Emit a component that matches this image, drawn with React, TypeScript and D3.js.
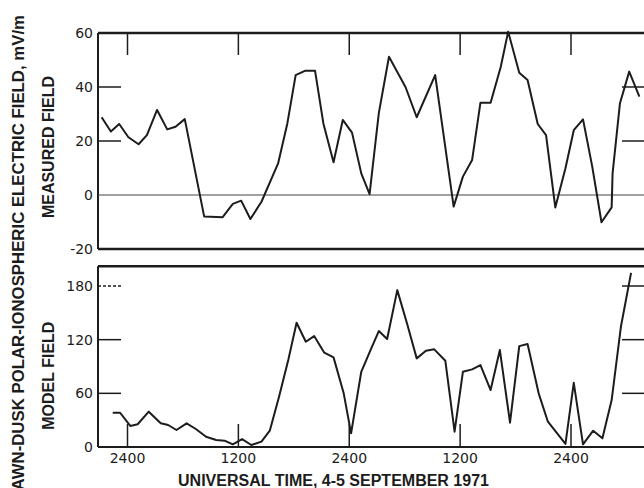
import React from "react";
import * as d3 from "d3";

// hours after 2400 UT on 4 Sept
const measuredHours = [-2.8, -1.8, -0.9, 0.1, 1.2, 2.1, 3.2, 4.3, 5.2, 6.2, 8.3, 10.3, 11.4, 12.3, 13.3, 14.5, 16.3, 17.3, 18.2, 19.2, 20.3, 21.2, 22.3, 23.3, 24.3, 25.3, 26.2, 27.2, 28.3, 30.1, 31.3, 33.3, 35.3, 36.3, 37.3, 38.2, 39.3, 40.4, 41.2, 42.4, 43.3, 44.4, 45.3, 46.3, 47.4, 48.3, 49.3, 50.3, 51.3, 52.4, 52.5, 53.3, 54.3, 55.4];
const measuredValues = [28.8, 23.5, 26.3, 21.4, 18.8, 22.2, 31.5, 24.3, 25.3, 28.1, -8, -8.2, -3.3, -2.1, -8.9, -2.5, 11.7, 26.5, 44.4, 46, 46, 26.5, 12.1, 27.8, 23.1, 8, 0.3, 30.3, 51.2, 39.9, 28.8, 44.4, -4.3, 6.8, 13, 34.2, 34.2, 47.5, 60.5, 45.3, 42.6, 26.3, 22.2, -4.6, 9.9, 24, 28, 10.5, -10.1, -4.6, 8, 34, 45.7, 36.4];

const modelHours = [-1.6, -0.8, 0.3, 1.1, 2.3, 3.6, 4.4, 5.3, 6.4, 7.4, 8.5, 9.6, 10.5, 11.4, 12.4, 13.4, 14.5, 15.4, 16.4, 17.4, 18.3, 19.3, 20.2, 21.3, 22.3, 23.4, 24.2, 25.3, 26.3, 27.2, 28.1, 29.2, 30.3, 31.3, 32.3, 33.2, 34.4, 35.4, 36.3, 37.3, 38.2, 39.3, 40.3, 41.4, 42.4, 43.3, 44.5, 45.5, 47.4, 48.3, 49.3, 50.4, 51.4, 52.4, 53.4, 54.5];
const modelValues = [38.3, 38.3, 23.5, 25.4, 39.5, 26.5, 24.6, 19, 26.5, 20.1, 11.5, 7.8, 7.1, 3, 8.9, 2.2, 6, 18.2, 56.2, 97.2, 138.9, 117.7, 124, 105.4, 100.2, 60, 15.3, 84.1, 108.4, 129.6, 120.7, 175.4, 136.3, 99.1, 107.6, 109.2, 96.4, 17.1, 84.1, 86.8, 91.6, 63.7, 108.4, 27.2, 112.8, 115.1, 60, 28.3, 3.4, 71.8, 3, 18.2, 9.7, 52.5, 134.4, 194.7];

const timeTicks = [0, 12, 24, 36, 48];
const timeLabels = ["2400", "1200", "2400", "1200", "2400"];
const measuredTicks = [60, 40, 20, 0, -20];
const modelTicks = [180, 120, 60, 0];

const W = 644;
const H = 488;
const left = 98;
const right = 646;
const ink = "#1c1c1c";
const labelFont = "'Liberation Sans', Arial, sans-serif";
const digitFont = "'DejaVu Sans', sans-serif";

const x = d3.scaleLinear().domain([0, 48]).range([127.5, 571]);
const yTop = d3.scaleLinear().domain([-20, 60]).range([249, 33]);
const yBot = d3.scaleLinear().domain([0, 180]).range([447, 286]);

const App = () => {
  const topLine = d3
    .line<number>()
    .x((h) => x(h))
    .y((_, i) => yTop(measuredValues[i]))(measuredHours);
  const botLine = d3
    .line<number>()
    .x((h) => x(h))
    .y((_, i) => yBot(modelValues[i]))(modelHours);

  const botTop = yBot(202);

  return (
    <svg
      width={W}
      height={H}
      style={{ position: "absolute", left: 0, top: 0, background: "#fff" }}
    >
      {/* measured panel frame */}
      <line x1={left} x2={right} y1={yTop(60)} y2={yTop(60)} stroke={ink} strokeWidth={2.5} />
      <line x1={left} x2={right} y1={yTop(-20)} y2={yTop(-20)} stroke={ink} strokeWidth={2.5} />
      <line x1={left} x2={left} y1={yTop(60)} y2={yTop(-20)} stroke={ink} strokeWidth={2} />
      <line x1={left} x2={right} y1={yTop(0)} y2={yTop(0)} stroke="#444" strokeWidth={1} />
      {[40, 20].map((v) => (
        <g key={"mt" + v}>
          <line x1={left} x2={left + 23} y1={yTop(v)} y2={yTop(v)} stroke={ink} strokeWidth={1.5} />
          <line x1={right - 24} x2={right} y1={yTop(v)} y2={yTop(v)} stroke={ink} strokeWidth={1.5} />
        </g>
      ))}
      {timeTicks.map((t) => (
        <line key={"tt" + t} x1={x(t)} x2={x(t)} y1={yTop(60)} y2={yTop(60) + 22} stroke={ink} strokeWidth={1.5} />
      ))}
      {measuredTicks.map((v) => (
        <text
          key={"ml" + v}
          x={left - 5}
          y={yTop(v)}
          textAnchor="end"
          dominantBaseline="central"
          fontFamily={digitFont}
          fontSize={14}
          fill={ink}
        >
          {v < 0 ? "-" + Math.abs(v) : v}
        </text>
      ))}
      <path d={topLine ?? ""} fill="none" stroke={ink} strokeWidth={2} strokeLinejoin="round" />

      {/* model panel frame */}
      <line x1={left} x2={right} y1={botTop} y2={botTop} stroke={ink} strokeWidth={2.5} />
      <line x1={left} x2={right} y1={yBot(0)} y2={yBot(0)} stroke={ink} strokeWidth={2} />
      <line x1={left} x2={left} y1={botTop} y2={yBot(0)} stroke={ink} strokeWidth={2} />
      {[180, 120, 60].map((v) => (
        <g key={"bt" + v}>
          <line
            x1={left}
            x2={left + 23}
            y1={yBot(v)}
            y2={yBot(v)}
            stroke={ink}
            strokeWidth={1.5}
            strokeDasharray={v === 180 ? "3 2" : undefined}
          />
          <line x1={right - 24} x2={right} y1={yBot(v)} y2={yBot(v)} stroke={ink} strokeWidth={1.5} />
        </g>
      ))}
      {timeTicks.map((t, i) => (
        <g key={"bx" + t}>
          <line x1={x(t)} x2={x(t)} y1={yBot(0)} y2={yBot(0) - 23} stroke={ink} strokeWidth={1.5} />
          <text
            x={x(t)}
            y={yBot(0) + 11}
            textAnchor="middle"
            dominantBaseline="central"
            fontFamily={digitFont}
            fontSize={14}
            fill={ink}
          >
            {timeLabels[i]}
          </text>
        </g>
      ))}
      {modelTicks.map((v) => (
        <text
          key={"bl" + v}
          x={left - 5}
          y={yBot(v)}
          textAnchor="end"
          dominantBaseline="central"
          fontFamily={digitFont}
          fontSize={14}
          fill={ink}
        >
          {v}
        </text>
      ))}
      <path d={botLine ?? ""} fill="none" stroke={ink} strokeWidth={2} strokeLinejoin="round" />

      {/* axis titles */}
      <text
        transform="translate(18, 15) rotate(-90)"
        textAnchor="end"
        dominantBaseline="central"
        fontFamily={labelFont}
        fontWeight="bold"
        fontSize={16.8}
        fill={ink}
      >
        DAWN-DUSK POLAR-IONOSPHERIC ELECTRIC FIELD, mV/m
      </text>
      <text
        transform={`translate(48, ${(yTop(60) + yTop(-20)) / 2 + 6}) rotate(-90)`}
        textAnchor="middle"
        dominantBaseline="central"
        fontFamily={labelFont}
        fontWeight="bold"
        fontSize={16}
        fill={ink}
      >
        MEASURED FIELD
      </text>
      <text
        transform={`translate(48, ${(botTop + yBot(0)) / 2 + 19}) rotate(-90)`}
        textAnchor="middle"
        dominantBaseline="central"
        fontFamily={labelFont}
        fontWeight="bold"
        fontSize={16}
        fill={ink}
      >
        MODEL FIELD
      </text>
      <text
        x={333.5}
        y={480}
        textAnchor="middle"
        dominantBaseline="central"
        fontFamily={labelFont}
        fontWeight="bold"
        fontSize={16}
        fill={ink}
      >
        UNIVERSAL TIME, 4-5 SEPTEMBER 1971
      </text>
    </svg>
  );
};

export default App;
